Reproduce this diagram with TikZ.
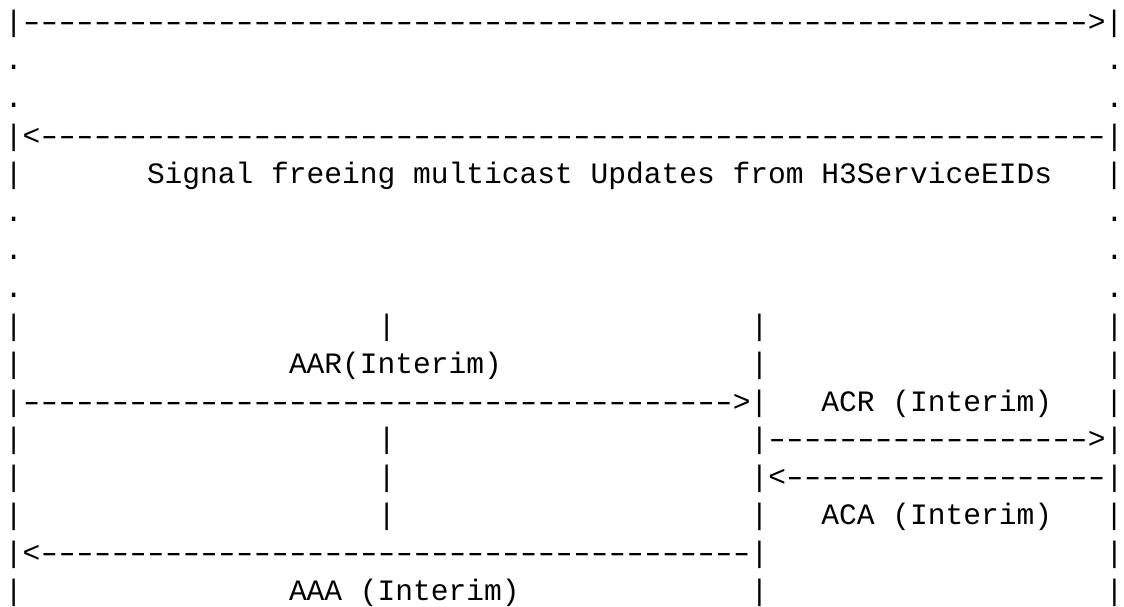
\documentclass[tikz,border=0pt]{standalone}
\usepackage{fontspec}
\usepackage{tikz}
\usetikzlibrary{positioning}
\newfontfamily\asciifont{Liberation Mono}
\newlength\cw
\setlength\cw{17.75pt}
\newcommand{\blanks}[1]{\hspace*{#1\cw}}
\newcommand{\dashchar}{\makebox[\cw]{\scalebox{1.45}[1]{-}}}
\newcommand{\dashes}[1]{\foreach \d in {1,...,#1}{\dashchar}}
\tikzset{
    row/.style={anchor=base west, inner sep=0pt, outer sep=0pt,
        font=\asciifont\fontsize{29.58pt}{37.9pt}\selectfont}
}

\begin{document}
\begin{tikzpicture}[x=1pt, y=1pt]
    \useasboundingbox (0,0) rectangle (1124,-607);
    % upper part
    \node[row] (r0) at (5,-32) {|\dashes{60}>|};
    \node[row] (r1) at (5,-69.9) {.\blanks{61}.};
    \node[row] (r2) at (5,-107.8) {.\blanks{61}.};
    \node[row] (r3) at (5,-145.7) {|<\dashes{60}|};
    \node[row] (r4) at (5,-183.6) {|\blanks{7}Signal freeing multicast Updates from H3ServiceEIDs\blanks{3}|};
    \node[row] (r5) at (5,-221.5) {.\blanks{61}.};
    \node[row] (r6) at (5,-259.4) {.\blanks{61}.};
    \node[row] (r7) at (5,-297.3) {.\blanks{61}.};

    % interim exchange
    \node[row] (r8) at (5,-335.2) {|\blanks{20}|\blanks{20}|\blanks{19}|};
    \node[row] (r9) at (5,-373.1) {|\blanks{15}AAR(Interim)\blanks{14}|\blanks{19}|};
    \node[row] (r10) at (5,-411) {|\dashes{40}>|\blanks{3}ACR (Interim)\blanks{3}|};
    \node[row] (r11) at (5,-448.9) {|\blanks{20}|\blanks{20}|\dashes{18}>|};
    \node[row] (r12) at (5,-486.8) {|\blanks{20}|\blanks{20}|<\dashes{18}|};
    \node[row] (r13) at (5,-524.7) {|\blanks{20}|\blanks{20}|\blanks{3}ACA (Interim)\blanks{3}|};
    \node[row] (r14) at (5,-562.6) {|<\dashes{40}|\blanks{19}|};
    \node[row] (r15) at (5,-600.5) {|\blanks{15}AAA (Interim)\blanks{13}|\blanks{19}|};
\end{tikzpicture}
\end{document}
